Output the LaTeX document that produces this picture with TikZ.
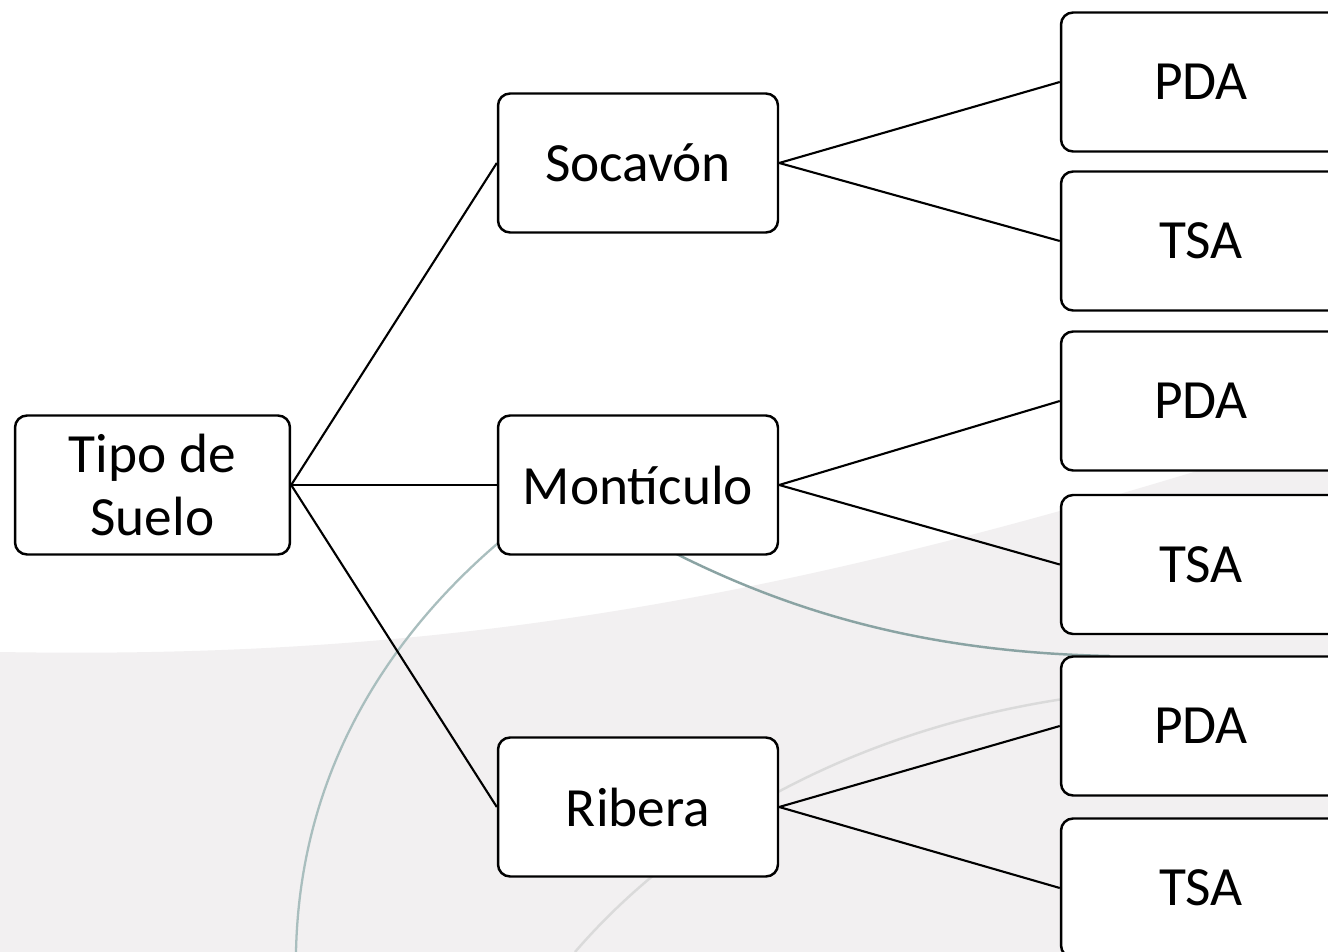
\documentclass[tikz,border=0pt]{standalone}
\usepackage{fontspec}
\setmainfont{Carlito}
\definecolor{bggray}{HTML}{F2F0F1}
\definecolor{tealline}{HTML}{8AA3A3}
\definecolor{tealline2}{HTML}{A9BEBE}
\definecolor{faintline}{HTML}{DADADA}
\begin{document}
\begin{tikzpicture}[x=0.02cm,y=-0.02cm,
  box/.style={draw=black,line width=1.4pt,rounded corners=0.24cm,fill=white,
    minimum width=5.6cm,minimum height=2.78cm,inner sep=0pt,align=center,
    font=\fontsize{31.5}{35.5}\selectfont},
  conn/.style={draw=black,line width=1.2pt}]
\useasboundingbox (0,0) rectangle (1328,952);
\clip (0,0) rectangle (1328,952);
% background
\fill[white] (0,0) rectangle (1328,952);
\fill[bggray] (0,652) .. controls (450,660) and (800,600) .. (1328,430) -- (1328,952) -- (0,952) -- cycle;
% faint curves
\draw[tealline2,line width=1.3pt] (520,525) .. controls (400,620) and (300,760) .. (296,952);
\draw[tealline,line width=1.4pt] (640,535) .. controls (760,600) and (900,652) .. (1110,656);
\draw[faintline,line width=1.4pt] (575,952) .. controls (680,830) and (850,730) .. (1070,698);
% nodes
\node[box,minimum width=5.5cm] (root) at (152.5,485) {Tipo de\\Suelo};
\node[box] (soc) at (638,163) {Socavón};
\node[box] (mon) at (638,485) {Montículo};
\node[box] (rib) at (638,807) {Ribera};
\node[box] (pda1) at (1201,82) {PDA};
\node[box] (tsa1) at (1201,241) {TSA};
\node[box] (pda2) at (1201,401) {PDA};
\node[box] (tsa2) at (1201,564.5) {TSA};
\node[box] (pda3) at (1201,726) {PDA};
\node[box] (tsa3) at (1201,888) {TSA};
% connectors
\draw[conn] (root.east) -- (soc.west);
\draw[conn] (root.east) -- (mon.west);
\draw[conn] (root.east) -- (rib.west);
\draw[conn] (soc.east) -- (pda1.west);
\draw[conn] (soc.east) -- (tsa1.west);
\draw[conn] (mon.east) -- (pda2.west);
\draw[conn] (mon.east) -- (tsa2.west);
\draw[conn] (rib.east) -- (pda3.west);
\draw[conn] (rib.east) -- (tsa3.west);
\end{tikzpicture}
\end{document}
